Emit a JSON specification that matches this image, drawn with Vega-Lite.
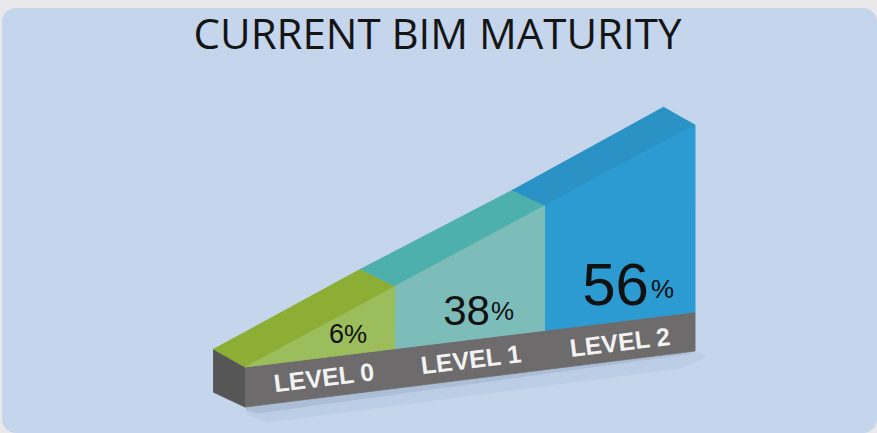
{
  "$schema": "https://vega.github.io/schema/vega-lite/v6.json",
  "autosize": {"type": "fit", "contains": "padding"},
  "width": 877,
  "height": 433,
  "padding": {"top": 8, "left": 2, "right": 0, "bottom": 0},
  "background": "#e9e9eb",
  "config": {"view": {"fill": "#c5d6ec", "stroke": null, "cornerRadius": 14}},
  "datasets": {
    "faces": [
      {"face": "shadow outer", "ord": 1, "u": 0, "w": -0.267},
      {"face": "shadow outer", "ord": 2, "u": 3, "w": 0.107},
      {"face": "shadow outer", "ord": 3, "u": 3.08, "w": 0.07},
      {"face": "shadow outer", "ord": 4, "u": 2.9, "w": -0.01},
      {"face": "shadow outer", "ord": 5, "u": 0.15, "w": -0.37},
      {"face": "shadow outer", "ord": 6, "u": 0.02, "w": -0.32},
      {"face": "shadow inner", "ord": 1, "u": 0, "w": -0.267},
      {"face": "shadow inner", "ord": 2, "u": 3, "w": 0.107},
      {"face": "shadow inner", "ord": 3, "u": 2.95, "w": 0.085},
      {"face": "shadow inner", "ord": 4, "u": 0.08, "w": -0.31},
      {"face": "shadow inner", "ord": 5, "u": 0.01, "w": -0.29},
      {"face": "base side", "ord": 1, "u": -0.213, "w": 0.12},
      {"face": "base side", "ord": 2, "u": 0, "w": 0},
      {"face": "base side", "ord": 3, "u": 0, "w": -0.267},
      {"face": "base side", "ord": 4, "u": -0.213, "w": -0.167},
      {"face": "base front", "ord": 1, "u": 0, "w": 0},
      {"face": "base front", "ord": 2, "u": 3, "w": 0.367},
      {"face": "base front", "ord": 3, "u": 3, "w": 0.107},
      {"face": "base front", "ord": 4, "u": 0, "w": -0.267},
      {"face": "LEVEL 0 top", "ord": 1, "u": -0.213, "w": 0.12},
      {"face": "LEVEL 0 top", "ord": 2, "u": 0, "w": 0},
      {"face": "LEVEL 0 top", "ord": 3, "u": 1, "w": 0.538},
      {"face": "LEVEL 0 top", "ord": 4, "u": 0.767, "w": 0.653},
      {"face": "LEVEL 1 top", "ord": 1, "u": 0.767, "w": 0.653},
      {"face": "LEVEL 1 top", "ord": 2, "u": 1, "w": 0.538},
      {"face": "LEVEL 1 top", "ord": 3, "u": 2, "w": 1.076},
      {"face": "LEVEL 1 top", "ord": 4, "u": 1.78, "w": 1.18},
      {"face": "LEVEL 2 top", "ord": 1, "u": 1.78, "w": 1.18},
      {"face": "LEVEL 2 top", "ord": 2, "u": 2, "w": 1.076},
      {"face": "LEVEL 2 top", "ord": 3, "u": 3, "w": 1.613},
      {"face": "LEVEL 2 top", "ord": 4, "u": 2.787, "w": 1.733},
      {"face": "LEVEL 0 front", "ord": 1, "u": 0, "w": 0},
      {"face": "LEVEL 0 front", "ord": 2, "u": 1, "w": 0.122},
      {"face": "LEVEL 0 front", "ord": 3, "u": 1, "w": 0.538},
      {"face": "LEVEL 1 front", "ord": 1, "u": 1, "w": 0.122},
      {"face": "LEVEL 1 front", "ord": 2, "u": 2, "w": 0.244},
      {"face": "LEVEL 1 front", "ord": 3, "u": 2, "w": 1.076},
      {"face": "LEVEL 1 front", "ord": 4, "u": 1, "w": 0.538},
      {"face": "LEVEL 2 front", "ord": 1, "u": 2, "w": 0.244},
      {"face": "LEVEL 2 front", "ord": 2, "u": 3, "w": 0.367},
      {"face": "LEVEL 2 front", "ord": 3, "u": 3, "w": 1.613},
      {"face": "LEVEL 2 front", "ord": 4, "u": 2, "w": 1.076}
    ],
    "levels": [
      {"level": "LEVEL 0", "pct": 6, "numU": 0.66, "numW": 0.16, "pctU": 0.66, "pctW": 0.16, "labU": 0.527, "labW": -0.075},
      {"level": "LEVEL 1", "pct": 38, "numU": 1.633, "numW": 0.28, "pctU": 1.64, "pctW": 0.313, "labU": 1.507, "labW": 0.045},
      {"level": "LEVEL 2", "pct": 56, "numU": 2.693, "numW": 0.413, "pctU": 2.707, "pctW": 0.46, "labU": 2.5, "labW": 0.16}
    ],
    "heading": [
      {"text": "CURRENT BIM MATURITY", "u": 1.283, "w": 2.118}
    ]
  },
  "layer": [
    {
      "data": {"name": "faces"},
      "mark": {"type": "line", "strokeWidth": 0.8, "strokeJoin": "round"},
      "encoding": {
        "x": {"field": "u", "type": "quantitative", "axis": null, "scale": {"domain": [-1.62, 4.213], "nice": false, "zero": false}},
        "y": {"field": "w", "type": "quantitative", "axis": null, "scale": {"domain": [-0.44, 2.393], "nice": false, "zero": false}},
        "order": {"field": "ord", "type": "quantitative"},
        "fill": {
          "field": "face", "type": "nominal", "legend": null,
          "scale": {
            "domain": ["shadow outer", "shadow inner", "base side", "base front", "LEVEL 0 top", "LEVEL 1 top", "LEVEL 2 top", "LEVEL 0 front", "LEVEL 1 front", "LEVEL 2 front"],
            "range": ["rgba(90,110,150,0.08)", "rgba(80,95,130,0.14)", "#575656", "#6d6b6b", "#8dae35", "#4db0ac", "#2b92c6", "#9cbd5b", "#7cbdba", "#2b9bd1"]
          }
        },
        "stroke": {
          "field": "face", "type": "nominal", "legend": null,
          "scale": {
            "domain": ["shadow outer", "shadow inner", "base side", "base front", "LEVEL 0 top", "LEVEL 1 top", "LEVEL 2 top", "LEVEL 0 front", "LEVEL 1 front", "LEVEL 2 front"],
            "range": ["rgba(0,0,0,0)", "rgba(0,0,0,0)", "#575656", "#6d6b6b", "#8dae35", "#4db0ac", "#2b92c6", "#9cbd5b", "#7cbdba", "#2b9bd1"]
          }
        }
      }
    },
    {
      "data": {"name": "heading"},
      "mark": {"type": "text", "font": "Open Sans", "fontSize": 42, "color": "#151515", "align": "center", "baseline": "alphabetic"},
      "encoding": {
        "x": {"field": "u", "type": "quantitative"},
        "y": {"field": "w", "type": "quantitative"},
        "text": {"field": "text"}
      }
    },
    {
      "data": {"name": "levels"},
      "mark": {"type": "text", "font": "Liberation Sans", "color": "#111111", "align": "right", "baseline": "alphabetic"},
      "encoding": {
        "x": {"field": "numU", "type": "quantitative"},
        "y": {"field": "numW", "type": "quantitative"},
        "text": {"field": "pct"},
        "size": {"field": "level", "type": "nominal", "legend": null, "scale": {"type": "ordinal", "domain": ["LEVEL 0", "LEVEL 1", "LEVEL 2"], "range": [27, 42, 60]}}
      }
    },
    {
      "data": {"name": "levels"},
      "mark": {"type": "text", "font": "Liberation Sans", "fontSize": 26, "color": "#111111", "align": "left", "baseline": "alphabetic"},
      "encoding": {
        "x": {"field": "pctU", "type": "quantitative"},
        "y": {"field": "pctW", "type": "quantitative"},
        "text": {"value": "%"}
      }
    },
    {
      "data": {"name": "levels"},
      "mark": {"type": "text", "font": "Liberation Sans", "fontWeight": "bold", "fontSize": 25, "color": "#f2f2f2", "align": "center", "baseline": "middle", "angle": -7},
      "encoding": {
        "x": {"field": "labU", "type": "quantitative"},
        "y": {"field": "labW", "type": "quantitative"},
        "text": {"field": "level"}
      }
    }
  ]
}
